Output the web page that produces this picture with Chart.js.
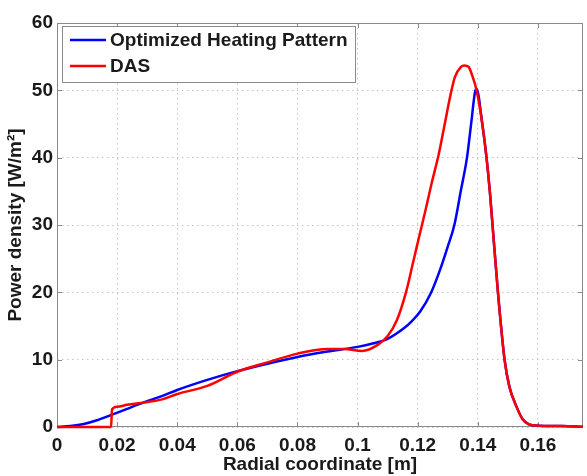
<!DOCTYPE html>
<html>
<head>
<meta charset="utf-8">
<script src="https://cdn.jsdelivr.net/npm/chart.js@4.4.0/dist/chart.umd.min.js"></script>
<style>
  html, body { margin: 0; padding: 0; background: #fff; }
  #wrap { width: 587px; height: 476px; }
</style>
</head>
<body>
<div id="wrap"><canvas id="powerChart" width="587" height="476"></canvas></div>
<script>
// Radial power density profiles
const seriesNames = ['Optimized Heating Pattern', 'DAS'];

const optX = [0, 0.0044, 0.0089, 0.0133, 0.0181, 0.0233, 0.0289, 0.0344, 0.04, 0.05, 0.06, 0.07, 0.08, 0.09, 0.1,
              0.105, 0.11, 0.1155, 0.118, 0.1209, 0.1244, 0.1274, 0.13, 0.1322, 0.1344, 0.1364, 0.1378, 0.1392, 0.1396,
              0.1415, 0.1429, 0.144, 0.1449, 0.1467, 0.1489, 0.1505, 0.1528, 0.155, 0.157, 0.16, 0.168, 0.175];
const optY = [0, 0.15, 0.45, 1.0, 1.8, 2.7, 3.65, 4.5, 5.5, 7.0, 8.3, 9.4, 10.4, 11.2, 11.9,
              12.4, 13.1, 14.7, 15.7, 17.2, 19.9, 23.3, 26.8, 30.0, 35.2, 40.0, 45.1, 50.0, 50.2,
              45.0, 40.0, 35.0, 30.0, 20.0, 10.0, 6.0, 3.1, 1.1, 0.4, 0.2, 0.15, 0.05];

const dasX = [0, 0.018, 0.0183, 0.02, 0.0233, 0.0289, 0.035, 0.04, 0.05, 0.06, 0.07, 0.08, 0.09, 0.0956, 0.1015,
              0.1067, 0.11, 0.1131, 0.1161, 0.1185, 0.1205, 0.1225, 0.1247, 0.127, 0.129, 0.131, 0.1324, 0.1344,
              0.1355, 0.1369, 0.1383, 0.1396, 0.1415, 0.1429, 0.144, 0.1449, 0.1467, 0.1489, 0.1505,
              0.1528, 0.155, 0.157, 0.16, 0.168, 0.175];
const dasY = [0, 0, 2.6, 3.0, 3.3, 3.65, 4.1, 4.9, 6.1, 8.2, 9.6, 10.9, 11.6, 11.6, 11.3,
              12.2, 13.5, 15.9, 20.0, 24.5, 28.3, 32.0, 36.3, 40.5, 45.0, 49.5, 52.0, 53.5,
              53.7, 53.5, 52.0, 50.0, 45.0, 40.0, 35.0, 30.0, 20.0, 10.0, 6.0,
              3.1, 1.1, 0.4, 0.2, 0.15, 0.05];

const xTicks = [0, 0.02, 0.04, 0.06, 0.08, 0.1, 0.12, 0.14, 0.16];
const yTicks = [0, 10, 20, 30, 40, 50, 60];

const seriesColors = ['#0000ff', '#ff0000'];
const textColor = '#1a1a1a';
const frameColor = '#8a8a8a';
const fontFamily = '"Liberation Sans", Arial, sans-serif';
const boldFont = { family: fontFamily, size: 19, weight: 'bold' };

const toPoints = (xs, ys) => xs.map((x, i) => ({ x: x, y: ys[i] }));

// axes box with inward ticks on all four sides (under the curves)
const framePlugin = {
  id: 'axesFrame',
  beforeDatasetsDraw(chart) {
    const { ctx, chartArea: a, scales } = chart;
    ctx.save();
    ctx.strokeStyle = frameColor;
    ctx.lineWidth = 1;
    ctx.strokeRect(a.left + 0.5, a.top + 0.5, a.right - a.left - 1, a.bottom - a.top - 1);
    const tl = 5;
    ctx.beginPath();
    xTicks.forEach(v => {
      const px = Math.round(scales.x.getPixelForValue(v)) + 0.5;
      ctx.moveTo(px, a.bottom); ctx.lineTo(px, a.bottom - tl);
      ctx.moveTo(px, a.top); ctx.lineTo(px, a.top + tl);
    });
    yTicks.forEach(v => {
      const py = Math.round(scales.y.getPixelForValue(v)) + 0.5;
      ctx.moveTo(a.left, py); ctx.lineTo(a.left + tl, py);
      ctx.moveTo(a.right, py); ctx.lineTo(a.right - tl, py);
    });
    ctx.stroke();
    ctx.restore();
  }
};

// legend box in the upper left corner of the plot
const legendPlugin = {
  id: 'insetLegend',
  afterDatasetsDraw(chart) {
    const { ctx, chartArea: a } = chart;
    const lx = a.left + 5, ly = a.top + 3, lw = 293, lh = 56;
    ctx.save();
    ctx.fillStyle = '#ffffff';
    ctx.fillRect(lx, ly, lw, lh);
    ctx.strokeStyle = frameColor;
    ctx.lineWidth = 1;
    ctx.strokeRect(lx + 0.5, ly + 0.5, lw, lh);
    ctx.font = 'bold 19px ' + fontFamily;
    ctx.textBaseline = 'middle';
    ctx.textAlign = 'left';
    seriesNames.forEach((name, i) => {
      const yy = ly + 14 + i * 26;
      ctx.strokeStyle = seriesColors[i];
      ctx.lineWidth = 2.5;
      ctx.beginPath();
      ctx.moveTo(lx + 8, yy); ctx.lineTo(lx + 44, yy);
      ctx.stroke();
      ctx.fillStyle = textColor;
      ctx.fillText(name, lx + 48, yy + 1);
    });
    ctx.restore();
  }
};

const gridStyle = { color: '#c4c4c4', drawTicks: false };
const gridBorder = { display: false, dash: [1.5, 3.5] };

const ctx = document.getElementById('powerChart').getContext('2d');
new Chart(ctx, {
  type: 'line',
  data: {
    datasets: [
      {
        label: seriesNames[0],
        data: toPoints(optX, optY),
        borderColor: seriesColors[0],
        borderWidth: 2.5,
        pointRadius: 0,
        fill: false,
        clip: false,
        cubicInterpolationMode: 'monotone',
        order: 1
      },
      {
        label: seriesNames[1],
        data: toPoints(dasX, dasY),
        borderColor: seriesColors[1],
        borderWidth: 2.5,
        pointRadius: 0,
        fill: false,
        clip: false,
        cubicInterpolationMode: 'monotone',
        order: 0
      }
    ]
  },
  options: {
    responsive: false,
    animation: false,
    layout: { padding: { top: 23, right: 4, left: 0, bottom: 0 } },
    scales: {
      x: {
        type: 'linear',
        min: 0,
        max: 0.175,
        afterBuildTicks: s => { s.ticks = xTicks.map(v => ({ value: v })); },
        afterFit: s => { s.height = 49; },
        grid: gridStyle,
        border: gridBorder,
        ticks: {
          padding: 7,
          color: textColor,
          font: boldFont,
          maxRotation: 0,
          callback: v => String(+v.toFixed(2))
        },
        title: {
          display: true,
          text: 'Radial coordinate [m]',
          color: textColor,
          font: boldFont,
          padding: { top: 3, bottom: 0 }
        }
      },
      y: {
        min: 0,
        max: 60,
        afterBuildTicks: s => { s.ticks = yTicks.map(v => ({ value: v })); },
        afterFit: s => { s.width = 57; },
        grid: gridStyle,
        border: gridBorder,
        ticks: { padding: 4, color: textColor, font: boldFont },
        title: {
          display: true,
          text: 'Power density [W/m²]',
          color: textColor,
          font: boldFont,
          padding: { top: 4, bottom: 0 }
        }
      }
    },
    plugins: {
      legend: { display: false },
      title: { display: false },
      tooltip: { enabled: false }
    }
  },
  plugins: [framePlugin, legendPlugin]
});
</script>
</body>
</html>
